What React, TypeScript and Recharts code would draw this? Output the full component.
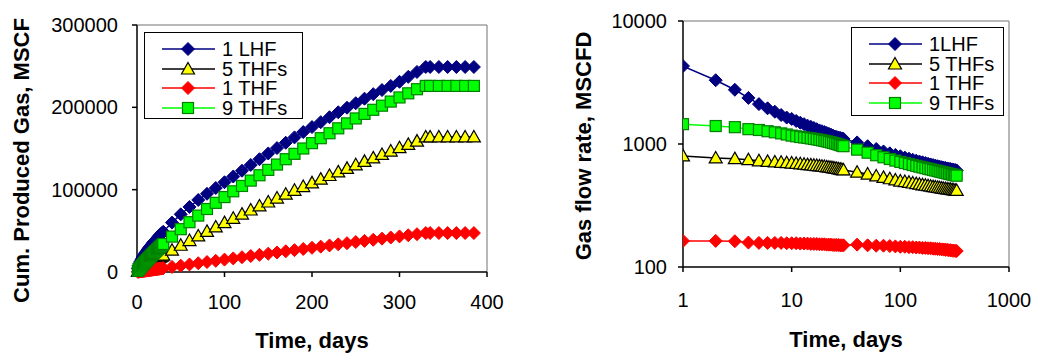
import React from "react";
import { LineChart, Line, XAxis, YAxis, ReferenceLine, Label } from "recharts";

const FONT = "'Liberation Sans', Arial, sans-serif";

// time axis: daily for the first month, then every 10 days
const rateDays = [
  1, 2, 3, 4, 5, 6, 7, 8, 9, 10, 11, 12, 13, 14, 15, 16, 17, 18, 19, 20, 21, 22, 23, 24, 25, 26, 27, 28, 29, 30,
  40, 50, 60, 70, 80, 90, 100, 110, 120, 130, 140, 150, 160, 170, 180, 190, 200, 210, 220, 230, 240, 250, 260,
  270, 280, 290, 300, 310, 320, 330,
];
// well shut in after day 330: cumulative stays flat
const plateauDays = [335, 345, 355, 365, 375, 385];

// gas flow rate, MSCFD
const rateLhf1 = [
  4300, 3300, 2760, 2370, 2110, 1950, 1830, 1720, 1640, 1600, 1540, 1490, 1450, 1410, 1380, 1350, 1320, 1290, 1270,
  1250, 1230, 1210, 1190, 1170, 1150, 1140, 1130, 1120, 1110, 1100,
  1030, 960, 910, 870, 840, 815, 795, 775, 760, 745, 732, 720, 710, 700, 690, 682, 674, 667, 660, 654, 648, 643, 638,
  633, 629, 625, 621, 617, 614, 610,
];
const rateThf5 = [
  800, 770, 760, 745, 730, 722, 715, 710, 705, 700, 695, 690, 685, 680, 676, 672, 668, 664, 660, 656, 652, 648, 644,
  640, 636, 632, 628, 624, 620, 615,
  590, 570, 550, 535, 522, 510, 500, 495, 488, 482, 476, 471, 466, 462, 458, 454, 450, 447, 444, 441, 438, 435, 433,
  431, 429, 427, 425, 423, 421, 419,
];
const rateThf1 = [
  163, 163, 162, 158, 157, 157, 157, 157, 156, 156, 156, 155, 155, 155, 154, 154, 154, 153, 153, 153, 152, 152, 152,
  151, 151, 151, 151, 150, 150, 150,
  152, 150, 149, 149, 148, 147, 146, 146, 145, 145, 144, 144, 143, 143, 142, 142, 141, 141, 140, 140, 139, 139, 138,
  138, 137, 137, 136, 136, 135, 135,
];
const rateThf9 = [
  1450, 1400, 1370, 1320, 1300, 1270, 1245, 1220, 1195, 1170, 1155, 1140, 1130, 1120, 1110, 1100, 1090, 1080, 1070,
  1060, 1050, 1040, 1030, 1020, 1010, 1000, 990, 980, 970, 960,
  900, 850, 810, 780, 755, 733, 715, 700, 687, 675, 664, 654, 645, 637, 629, 622, 615, 609, 603, 597, 592, 587, 582,
  577, 573, 569, 565, 561, 557, 553,
];

// cumulative produced gas, MSCF (rateDays followed by plateauDays)
const cumLhf1 = [
  4300, 7600, 10360, 12730, 14840, 16790, 18620, 20340, 21980, 23580, 25120, 26610, 28060, 29470, 30850, 32200, 33520,
  34810, 36080, 37330, 38560, 39770, 40960, 42130, 43280, 44420, 45550, 46670, 47780, 48880,
  60000, 70000, 79000, 87500, 95000, 102000, 109000, 116000, 123000, 130000, 137000, 144000, 150500, 157000, 163500,
  170000, 176000, 182000, 188000, 194000, 199500, 205000, 210500, 216000, 221000, 226000, 231000, 237000, 243000,
  249000,
  249000, 249000, 249000, 249000, 249000, 249000,
];
const cumThf5 = [
  800, 1570, 2330, 3075, 3805, 4527, 5242, 5952, 6657, 7357, 8052, 8742, 9427, 10107, 10783, 11455, 12123, 12787,
  13447, 14103, 14755, 15403, 16047, 16687, 17323, 17955, 18583, 19207, 19827, 20442,
  26500, 32500, 38200, 43800, 49300, 54700, 60000, 65200, 70300, 75300, 80200, 85000, 89800, 94500, 99200, 103800,
  108300, 112800, 117200, 121600, 125900, 130200, 134400, 138600, 142800, 146900, 151000, 155000, 159000, 164000,
  164000, 164000, 164000, 164000, 164000, 164000,
];
const cumThf1 = [
  163, 326, 488, 646, 803, 960, 1117, 1274, 1430, 1586, 1742, 1897, 2052, 2207, 2361, 2515, 2669, 2822, 2975, 3128,
  3280, 3432, 3584, 3735, 3886, 4037, 4188, 4338, 4488, 4638,
  6158, 7658, 9148, 10638, 12118, 13588, 15048, 16508, 17958, 19408, 20848, 22288, 23718, 25148, 26568, 27988, 29398,
  30808, 32208, 33608, 34998, 36388, 37768, 39148, 40518, 41888, 43248, 44608, 45958, 47308,
  47308, 47308, 47308, 47308, 47308, 47308,
];
const cumThf9 = [
  1450, 2850, 4220, 5540, 6840, 8110, 9355, 10575, 11770, 12940, 14095, 15235, 16365, 17485, 18595, 19695, 20785,
  21865, 22935, 23995, 25045, 26085, 27115, 28135, 29145, 30145, 31135, 32115, 33085, 34045,
  43000, 52000, 60500, 68500, 76500, 84000, 91000, 98000, 104500, 111000, 117500, 124000, 130500, 137000, 143500,
  150000, 156500, 162500, 168500, 174500, 180500, 186500, 192000, 197000, 202000, 207000, 212000, 217000, 222000,
  226000,
  226000, 226000, 226000, 226000, 226000, 226000,
];

const cumTicksX = [0, 100, 200, 300, 400];
const cumTicksY = [0, 100000, 200000, 300000];
const rateTicksX = [1, 10, 100, 1000];
const rateTicksY = [100, 1000, 10000];

type Shape = "diamond" | "triangle" | "square";
type Series = {
  key: string;
  cumName: string;
  rateName: string;
  line: string;
  fill: string;
  stroke: string;
  shape: Shape;
};

const series: Series[] = [
  { key: "lhf1", cumName: "1 LHF", rateName: "1LHF", line: "#000080", fill: "#000080", stroke: "#000080", shape: "diamond" },
  { key: "thf5", cumName: "5 THFs", rateName: "5 THFs", line: "#000000", fill: "#FFFF00", stroke: "#000000", shape: "triangle" },
  { key: "thf1", cumName: "1 THF", rateName: "1 THF", line: "#FF0000", fill: "#FF0000", stroke: "#FF0000", shape: "diamond" },
  { key: "thf9", cumName: "9 THFs", rateName: "9 THFs", line: "#00FF00", fill: "#00FF00", stroke: "#008000", shape: "square" },
];

const cumDays = rateDays.concat(plateauDays);
const cumRows = cumDays.map((day, i) => ({
  day,
  lhf1: cumLhf1[i],
  thf5: cumThf5[i],
  thf1: cumThf1[i],
  thf9: cumThf9[i],
}));
const rateRows = rateDays.map((day, i) => ({
  day,
  lhf1: rateLhf1[i],
  thf5: rateThf5[i],
  thf1: rateThf1[i],
  thf9: rateThf9[i],
}));

function Marker({ shape, cx, cy, fill, stroke }: { shape: Shape; cx: number; cy: number; fill: string; stroke: string }) {
  if (shape === "diamond") {
    return (
      <polygon
        points={`${cx},${cy - 6.5} ${cx + 6.5},${cy} ${cx},${cy + 6.5} ${cx - 6.5},${cy}`}
        fill={fill}
        stroke={stroke}
        strokeWidth={1}
      />
    );
  }
  if (shape === "triangle") {
    return (
      <polygon
        points={`${cx},${cy - 6.5} ${cx + 6.5},${cy + 5} ${cx - 6.5},${cy + 5}`}
        fill={fill}
        stroke={stroke}
        strokeWidth={1.2}
      />
    );
  }
  return <rect x={cx - 5.5} y={cy - 5.5} width={11} height={11} fill={fill} stroke={stroke} strokeWidth={1.2} />;
}

function renderDot(s: Series) {
  return (p: any) => {
    if (p.cx == null || p.cy == null || isNaN(p.cx) || isNaN(p.cy)) return <g key={`${s.key}-${p.index}`} />;
    return (
      <g key={`${s.key}-${p.index}`}>
        <Marker shape={s.shape} cx={p.cx} cy={p.cy} fill={s.fill} stroke={s.stroke} />
      </g>
    );
  };
}

function LegendBox({ left, top, width, height, names }: { left: number; top: number; width: number; height: number; names: string[] }) {
  const rows = [16, 36, 55, 75];
  return (
    <svg
      width={width}
      height={height}
      style={{ position: "absolute", left, top, background: "#fff", border: "1.5px solid #000", boxSizing: "border-box" }}
    >
      {series.map((s, i) => (
        <g key={s.key}>
          <line x1={17} x2={70} y1={rows[i]} y2={rows[i]} stroke={s.line} strokeWidth={1.5} />
          <Marker shape={s.shape} cx={43} cy={rows[i]} fill={s.fill} stroke={s.stroke} />
          <text x={77} y={rows[i] + 7} fontSize={20} fontFamily={FONT} fill="#000">
            {names[i]}
          </text>
        </g>
      ))}
    </svg>
  );
}

const tickStyle = { fill: "#000", fontSize: 20, fontFamily: FONT };
const axisLine = { stroke: "#000", strokeWidth: 1.5 };
const tickLine = { stroke: "#000", strokeWidth: 1.5 };

function xTitle(baselineOffset: number) {
  return (props: any) => {
    const vb = props.viewBox || {};
    return (
      <text
        x={vb.x + vb.width / 2}
        y={vb.y + baselineOffset}
        textAnchor="middle"
        fontSize={22}
        fontWeight="bold"
        fontFamily={FONT}
        fill="#000"
      >
        Time, days
      </text>
    );
  };
}

function yTitle(text: string, x: number, shift: number) {
  return (props: any) => {
    const vb = props.viewBox || {};
    const cy = vb.y + vb.height / 2 + shift;
    return (
      <text
        x={x}
        y={cy}
        transform={`rotate(-90, ${x}, ${cy})`}
        textAnchor="middle"
        fontSize={22}
        fontWeight="bold"
        fontFamily={FONT}
        fill="#000"
      >
        {text}
      </text>
    );
  };
}

function CumulativeChart() {
  return (
    <LineChart width={520} height={353} data={cumRows} margin={{ top: 25, right: 33, bottom: 0, left: 0 }}>
      <ReferenceLine y={300000} stroke="#a0a0a0" strokeWidth={1.5} />
      <ReferenceLine x={400} stroke="#a0a0a0" strokeWidth={1.5} />
      <XAxis
        dataKey="day"
        type="number"
        domain={[0, 400]}
        ticks={cumTicksX}
        height={81}
        tick={tickStyle}
        tickSize={5}
        tickMargin={18}
        axisLine={axisLine}
        tickLine={tickLine}
      >
        <Label content={xTitle(76)} />
      </XAxis>
      <YAxis
        type="number"
        domain={[0, 300000]}
        ticks={cumTicksY}
        width={137}
        tick={tickStyle}
        tickSize={5}
        tickMargin={14}
        axisLine={axisLine}
        tickLine={tickLine}
        interval={0}
      >
        <Label content={yTitle("Cum. Produced Gas, MSCF", 29, 12)} />
      </YAxis>
      {series.map((s) => (
        <Line
          key={s.key}
          dataKey={s.key}
          name={s.cumName}
          type="linear"
          stroke={s.line}
          strokeWidth={1.5}
          dot={renderDot(s)}
          activeDot={false}
          isAnimationActive={false}
        />
      ))}
    </LineChart>
  );
}

function RateChart() {
  return (
    <LineChart width={518} height={353} data={rateRows} margin={{ top: 21, right: 29, bottom: 0, left: 0 }}>
      <ReferenceLine y={10000} stroke="#a0a0a0" strokeWidth={1.5} />
      <ReferenceLine x={1000} stroke="#a0a0a0" strokeWidth={1.5} />
      <XAxis
        dataKey="day"
        type="number"
        scale="log"
        domain={[1, 1000]}
        ticks={rateTicksX}
        allowDataOverflow
        height={86}
        tick={tickStyle}
        tickSize={5}
        tickMargin={21}
        axisLine={axisLine}
        tickLine={tickLine}
        interval={0}
      >
        <Label content={xTitle(80)} />
      </XAxis>
      <YAxis
        type="number"
        scale="log"
        domain={[100, 10000]}
        ticks={rateTicksY}
        allowDataOverflow
        width={163}
        tick={tickStyle}
        tickSize={5}
        tickMargin={11}
        axisLine={axisLine}
        tickLine={tickLine}
        interval={0}
      >
        <Label content={yTitle("Gas flow rate, MSCFD", 71, 2)} />
      </YAxis>
      {series.map((s) => (
        <Line
          key={s.key}
          dataKey={s.key}
          name={s.rateName}
          type="linear"
          stroke={s.line}
          strokeWidth={1.5}
          dot={renderDot(s)}
          activeDot={false}
          isAnimationActive={false}
        />
      ))}
    </LineChart>
  );
}

export default function App() {
  return (
    <div style={{ position: "absolute", left: 0, top: 0, width: 1038, height: 353, background: "#fff", fontFamily: FONT }}>
      <div style={{ position: "absolute", left: 0, top: 0 }}>
        <CumulativeChart />
      </div>
      <div style={{ position: "absolute", left: 520, top: 0 }}>
        <RateChart />
      </div>
      <LegendBox left={144} top={32} width={159} height={87} names={series.map((s) => s.cumName)} />
      <LegendBox left={851} top={27} width={153} height={89} names={series.map((s) => s.rateName)} />
    </div>
  );
}
